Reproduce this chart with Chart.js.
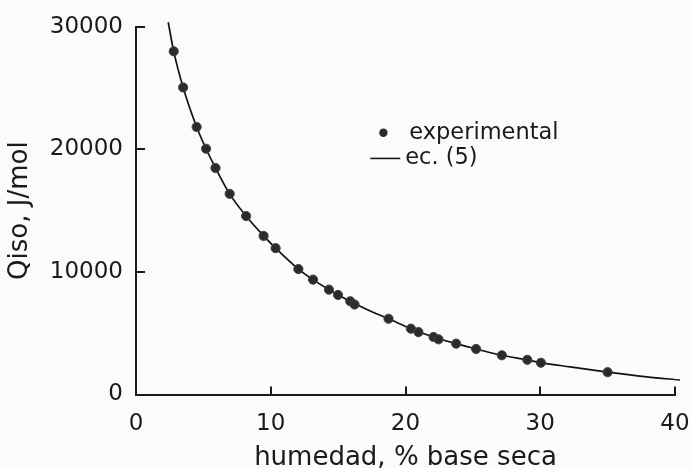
<!DOCTYPE html>
<html><head><meta charset="utf-8">
<script src="https://cdn.jsdelivr.net/npm/chart.js@4/dist/chart.umd.min.js"></script>
<style>html,body{margin:0;padding:0;background:#fbfbfb;}#wrap{width:691px;height:468px;position:relative;}</style>
</head><body><div id="wrap"><canvas id="c" width="691" height="468"></canvas></div>
<script>
// experimental points
const expX = [2.8, 3.5, 4.5, 5.2, 5.9, 6.95, 8.17, 9.47, 10.36, 12.05, 13.14, 14.32, 14.99, 15.9, 16.22, 18.74, 20.4, 20.96, 22.08, 22.45, 23.76, 25.24, 27.15, 29.04, 30.05, 35.0];
const expY = [28000, 25050, 21830, 20050, 18480, 16370, 14560, 12940, 11940, 10235, 9370, 8555, 8125, 7610, 7340, 6180, 5370, 5090, 4690, 4500, 4150, 3715, 3200, 2830, 2590, 1820];
// fitted curve ec. (5)
const fitX = [2.39, 2.8, 3.5, 4.5, 5.2, 5.9, 6.95, 8.17, 9.47, 10.36, 12.05, 13.14, 14.32, 15.9, 17.5, 18.74, 20.4, 22.08, 23.76, 25.24, 27.15, 29.04, 30.05, 32.2, 35.0, 37.9, 40.36];
const fitY = [30370, 28000, 25050, 21830, 20050, 18480, 16370, 14560, 12940, 11940, 10235, 9370, 8555, 7610, 6750, 6180, 5370, 4690, 4150, 3715, 3200, 2820, 2600, 2255, 1830, 1445, 1175];
const xTicks = [0, 10, 20, 30, 40];
const yTicks = [0, 10000, 20000, 30000];
const seriesLabels = ['experimental', 'ec. (5)'];
const xTitle = 'humedad, % base seca';
const yTitle = 'Qiso, J/mol';

const FONT = '"DejaVu Sans", "Liberation Sans", Arial, sans-serif';
const INK = '#1a1a1a';

const inwardTicks = {
  id: 'inwardTicks',
  afterDatasetsDraw(chart) {
    const ctx = chart.ctx, xs = chart.scales.x, ys = chart.scales.y, a = chart.chartArea;
    ctx.save();
    ctx.strokeStyle = INK; ctx.lineWidth = 2;
    xTicks.forEach(v => {
      const p = Math.round(xs.getPixelForValue(v));
      ctx.beginPath(); ctx.moveTo(p, a.bottom); ctx.lineTo(p, a.bottom - 8); ctx.stroke();
    });
    yTicks.forEach(v => {
      const p = Math.round(ys.getPixelForValue(v));
      ctx.beginPath(); ctx.moveTo(a.left, p); ctx.lineTo(a.left + 9, p); ctx.stroke();
    });
    ctx.restore();
  }
};

const axisTitles = {
  id: 'axisTitles',
  afterDraw(chart) {
    const ctx = chart.ctx, a = chart.chartArea;
    ctx.save();
    ctx.font = '26px ' + FONT;
    ctx.fillStyle = INK;
    ctx.textAlign = 'center';
    ctx.textBaseline = 'alphabetic';
    ctx.fillText(xTitle, (a.left + a.right) / 2, 465);
    ctx.translate(20, (a.top + a.bottom) / 2);
    ctx.rotate(-Math.PI / 2);
    ctx.textBaseline = 'middle';
    ctx.fillText(yTitle, 0, 0);
    ctx.restore();
  }
};

const innerLegend = {
  id: 'innerLegend',
  afterDraw(chart) {
    const ctx = chart.ctx, a = chart.chartArea, w = a.right - a.left, h = a.bottom - a.top;
    const X = f => a.left + f * w, Y = f => a.top + f * h;
    ctx.save();
    ctx.font = '22.5px ' + FONT;
    ctx.fillStyle = INK; ctx.textBaseline = 'middle'; ctx.textAlign = 'left';
    // experimental
    ctx.beginPath(); ctx.arc(X(0.459), Y(0.288), 4.2, 0, Math.PI * 2); ctx.fillStyle = '#2a2a2a'; ctx.fill();
    ctx.fillStyle = INK;
    ctx.fillText(seriesLabels[0], X(0.507), Y(0.288));
    // ec. (5)
    ctx.strokeStyle = INK; ctx.lineWidth = 1.6;
    ctx.beginPath(); ctx.moveTo(X(0.4347), Y(0.358)); ctx.lineTo(X(0.4903), Y(0.358)); ctx.stroke();
    ctx.fillText(seriesLabels[1], X(0.4995), Y(0.358));
    ctx.restore();
  }
};

new Chart(document.getElementById('c'), {
  type: 'scatter',
  data: {
    datasets: [
      {
        label: seriesLabels[0],
        data: expX.map((x, i) => ({ x, y: expY[i] })),
        pointRadius: 4.6,
        pointBackgroundColor: '#2b2b2b',
        pointBorderColor: '#444',
        pointBorderWidth: 1,
        showLine: false,
        order: 0
      },
      {
        label: seriesLabels[1],
        data: fitX.map((x, i) => ({ x, y: fitY[i] })),
        showLine: true,
        borderColor: '#111',
        borderWidth: 1.7,
        pointRadius: 0,
        cubicInterpolationMode: 'monotone',
        clip: false,
        order: 1
      }
    ]
  },
  options: {
    responsive: false,
    animation: false,
    devicePixelRatio: 1,
    layout: { padding: { top: 24, right: 16, left: 0, bottom: 0 } },
    plugins: { legend: { display: false }, tooltip: { enabled: false } },
    scales: {
      x: {
        type: 'linear', min: 0, max: 40,
        afterBuildTicks: s => { s.ticks = xTicks.map(v => ({ value: v })); },
        grid: { display: false, drawTicks: false },
        border: { display: true, color: INK, width: 2 },
        ticks: { color: INK, font: { family: FONT, size: 23, lineHeight: 2.5 }, padding: 1, maxRotation: 0 },
        title: { display: false },
        afterFit: s => { s.height = 73.5; }
      },
      y: {
        type: 'linear', min: 0, max: 30000,
        afterBuildTicks: s => { s.ticks = yTicks.map(v => ({ value: v })); },
        grid: { display: false, drawTicks: false },
        border: { display: true, color: INK, width: 2 },
        ticks: { color: INK, font: { family: FONT, size: 23 }, padding: 13, callback: v => String(v) },
        afterFit: s => { s.width = 136; }
      }
    }
  },
  plugins: [inwardTicks, axisTitles, innerLegend]
});
</script>
</body></html>
